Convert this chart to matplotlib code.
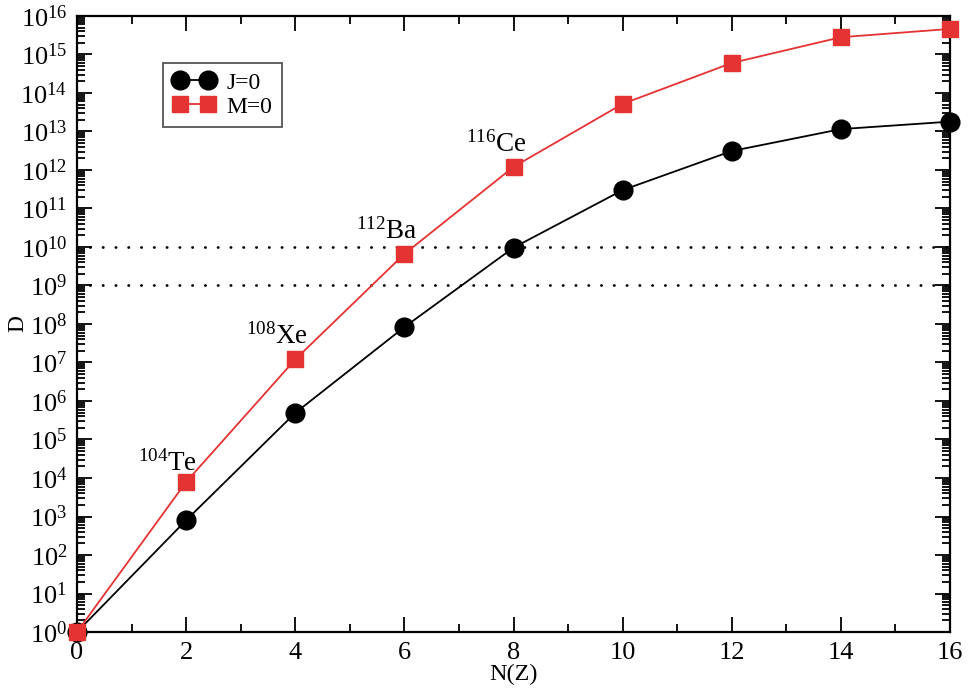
import numpy as np
import matplotlib
matplotlib.use("Agg")
import matplotlib.pyplot as plt
from matplotlib.ticker import LogLocator, MultipleLocator, LogFormatterMathtext, NullFormatter

# Data
n_z = [0, 2, 4, 6, 8, 10, 12, 14, 16]
d_j0 = [1e0, 8e2, 4.9e5, 8.3e7, 9.6e9, 3.0e11, 3.1e12, 1.15e13, 1.8e13]
d_m0 = [1e0, 7.9e3, 1.2e7, 6.6e9, 1.2e12, 5.2e13, 6.0e14, 2.8e15, 4.6e15]
nuclei = [r"$^{104}\mathrm{Te}$", r"$^{108}\mathrm{Xe}$", r"$^{112}\mathrm{Ba}$", r"$^{116}\mathrm{Ce}$"]
label_x = [2.2, 4.23, 6.23, 8.24]
label_y = [10**4.2, 10**7.48, 10**10.23, 10**12.47]
hlines = [1e9, 1e10]

plt.rcParams['font.family'] = ['Liberation Serif', 'DejaVu Serif']
plt.rcParams['mathtext.fontset'] = 'custom'
plt.rcParams['mathtext.rm'] = 'Liberation Serif'
plt.rcParams['mathtext.it'] = 'Liberation Serif:italic'

red = '#e53232'

fig = plt.figure(figsize=(9.7, 6.93), dpi=100)
ax = fig.add_axes([0.0794, 0.088, 0.9, 0.889])

# dotted reference levels
for h in hlines:
    ax.plot([0, 16], [h, h], color='black', lw=2.0, ls=(0, (0.1, 4.5)),
            dash_capstyle='round', zorder=1)

ax.plot(n_z, d_j0, color='black', lw=1.3, marker='o', ms=13.5,
        label='J=0', clip_on=False, zorder=3)
ax.plot(n_z, d_m0, color=red, lw=1.3, marker='s', ms=11.5, mec=red, mfc=red,
        label='M=0', clip_on=False, zorder=4)

for txt, x, y in zip(nuclei, label_x, label_y):
    ax.text(x, y, txt, fontsize=19.5, ha='right', va='baseline')

ax.set_yscale('log')
ax.set_xlim(0, 16)
ax.set_ylim(1e0, 1e16)
ax.xaxis.set_major_locator(MultipleLocator(2))
ax.xaxis.set_minor_locator(MultipleLocator(1))
ax.yaxis.set_major_locator(LogLocator(base=10, numticks=20))
ax.yaxis.set_minor_locator(LogLocator(base=10, subs=np.arange(2, 10), numticks=20))
ax.yaxis.set_major_formatter(LogFormatterMathtext())
ax.yaxis.set_minor_formatter(NullFormatter())

ax.tick_params(which='both', direction='in', top=True, right=True, width=1.3, labelsize=19)
ax.tick_params(which='major', length=11, pad=7)
ax.tick_params(which='minor', length=5.5)
for s in ax.spines.values():
    s.set_linewidth(1.6)

ax.set_xlabel('N(Z)', fontsize=17.5)
ax.xaxis.set_label_coords(0.5, -0.052)
ax.set_ylabel('D', fontsize=17)
ax.yaxis.set_label_coords(-0.056, 0.5)

leg = ax.legend(loc='upper left', bbox_to_anchor=(0.0985, 0.924), borderaxespad=0,
                fontsize=17, numpoints=2, handlelength=1.8, handletextpad=0.5,
                fancybox=False, framealpha=1, borderpad=0.4, labelspacing=0.1)
leg.get_frame().set_edgecolor('#555555')
leg.get_frame().set_linewidth(1.3)

fig.savefig('out.png', dpi=100)
